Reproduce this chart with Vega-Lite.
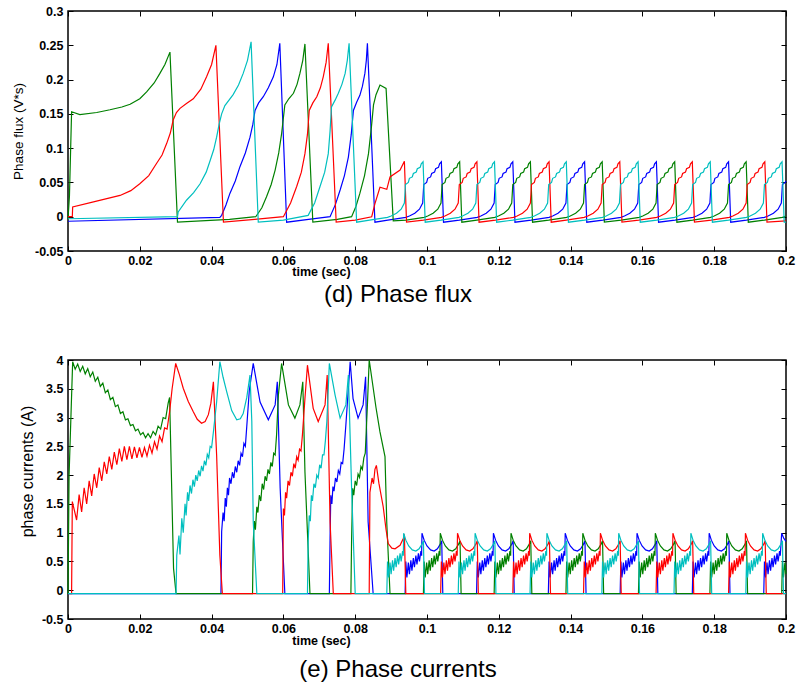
{
"$schema":"https://vega.github.io/schema/vega-lite/v6.json",
"padding":{"left":10,"top":4,"right":2,"bottom":0},
"spacing":45,
"config":{
"view":{"stroke":"#000","strokeWidth":1.5},
"axis":{"grid":false,"domain":false,"ticks":true,"tickSize":-5,"tickColor":"#000","tickWidth":1,"labelFlush":false,"labelFont":"Liberation Sans","labelFontSize":12.5,"labelFontWeight":"bold","labelColor":"#000","titleFont":"Liberation Sans","titleColor":"#000"},
"title":{"font":"Liberation Sans","fontSize":24,"fontWeight":"normal","color":"#000","orient":"bottom","anchor":"middle"}
},
"datasets":{
"flux":[
{"p":"A","t":0,"v":-0.0066},{"p":"A","t":0.0423,"v":-0.001},{"p":"A","t":0.0428,"v":0.002},{"p":"A","t":0.044,"v":0.017},{"p":"A","t":0.0451,"v":0.034},{"p":"A","t":0.0466,"v":0.052},{"p":"A","t":0.0479,"v":0.073},{"p":"A","t":0.0494,"v":0.093},{"p":"A","t":0.0507,"v":0.116},{"p":"A","t":0.0515,"v":0.135},{"p":"A","t":0.0521,"v":0.155},{"p":"A","t":0.0531,"v":0.166},{"p":"A","t":0.0544,"v":0.175},{"p":"A","t":0.0558,"v":0.188},{"p":"A","t":0.0572,"v":0.204},{"p":"A","t":0.0582,"v":0.222},{"p":"A","t":0.059,"v":0.253},{"p":"A","t":0.0609,"v":-0.008},{"p":"A","t":0.067,"v":-0.004},{"p":"A","t":0.073,"v":0},{"p":"A","t":0.0745,"v":0.018},{"p":"A","t":0.0758,"v":0.039},{"p":"A","t":0.077,"v":0.06},{"p":"A","t":0.0781,"v":0.087},{"p":"A","t":0.0789,"v":0.12},{"p":"A","t":0.0795,"v":0.155},{"p":"A","t":0.0804,"v":0.167},{"p":"A","t":0.0813,"v":0.177},{"p":"A","t":0.082,"v":0.19},{"p":"A","t":0.0827,"v":0.209},{"p":"A","t":0.0831,"v":0.228},{"p":"A","t":0.0834,"v":0.253},{"p":"A","t":0.0855,"v":-0.008},
{"p":"A","t":0.0891,"v":-0.005},{"p":"A","t":0.0941,"v":-0.001},{"p":"A","t":0.0951,"v":0.001},{"p":"A","t":0.0966,"v":0.005},{"p":"A","t":0.0979,"v":0.011},{"p":"A","t":0.0988,"v":0.02},{"p":"A","t":0.0991,"v":0.047},{"p":"A","t":0.0999,"v":0.05},{"p":"A","t":0.1002,"v":0.056},{"p":"A","t":0.101,"v":0.058},{"p":"A","t":0.1013,"v":0.063},{"p":"A","t":0.1021,"v":0.065},{"p":"A","t":0.1024,"v":0.07},{"p":"A","t":0.1032,"v":0.072},{"p":"A","t":0.1035,"v":0.077},{"p":"A","t":0.104,"v":0.08},{"p":"A","t":0.1046,"v":-0.008},
{"p":"A","t":0.109,"v":-0.005},{"p":"A","t":0.114,"v":-0.001},{"p":"A","t":0.115,"v":0.001},{"p":"A","t":0.1165,"v":0.005},{"p":"A","t":0.1178,"v":0.011},{"p":"A","t":0.1187,"v":0.02},{"p":"A","t":0.119,"v":0.047},{"p":"A","t":0.1198,"v":0.05},{"p":"A","t":0.1201,"v":0.056},{"p":"A","t":0.1209,"v":0.058},{"p":"A","t":0.1212,"v":0.063},{"p":"A","t":0.122,"v":0.065},{"p":"A","t":0.1223,"v":0.07},{"p":"A","t":0.1231,"v":0.072},{"p":"A","t":0.1234,"v":0.077},{"p":"A","t":0.1239,"v":0.08},{"p":"A","t":0.1245,"v":-0.008},
{"p":"A","t":0.129,"v":-0.005},{"p":"A","t":0.134,"v":-0.001},{"p":"A","t":0.135,"v":0.001},{"p":"A","t":0.1365,"v":0.005},{"p":"A","t":0.1378,"v":0.011},{"p":"A","t":0.1387,"v":0.02},{"p":"A","t":0.139,"v":0.047},{"p":"A","t":0.1398,"v":0.05},{"p":"A","t":0.1401,"v":0.056},{"p":"A","t":0.1409,"v":0.058},{"p":"A","t":0.1412,"v":0.063},{"p":"A","t":0.142,"v":0.065},{"p":"A","t":0.1423,"v":0.07},{"p":"A","t":0.1431,"v":0.072},{"p":"A","t":0.1434,"v":0.077},{"p":"A","t":0.1439,"v":0.08},{"p":"A","t":0.1445,"v":-0.008},
{"p":"A","t":0.149,"v":-0.005},{"p":"A","t":0.154,"v":-0.001},{"p":"A","t":0.155,"v":0.001},{"p":"A","t":0.1565,"v":0.005},{"p":"A","t":0.1578,"v":0.011},{"p":"A","t":0.1587,"v":0.02},{"p":"A","t":0.159,"v":0.047},{"p":"A","t":0.1598,"v":0.05},{"p":"A","t":0.1601,"v":0.056},{"p":"A","t":0.1609,"v":0.058},{"p":"A","t":0.1612,"v":0.063},{"p":"A","t":0.162,"v":0.065},{"p":"A","t":0.1623,"v":0.07},{"p":"A","t":0.1631,"v":0.072},{"p":"A","t":0.1634,"v":0.077},{"p":"A","t":0.1639,"v":0.08},{"p":"A","t":0.1645,"v":-0.008},
{"p":"A","t":0.1691,"v":-0.005},{"p":"A","t":0.1741,"v":-0.001},{"p":"A","t":0.1751,"v":0.001},{"p":"A","t":0.1766,"v":0.005},{"p":"A","t":0.1779,"v":0.011},{"p":"A","t":0.1788,"v":0.02},{"p":"A","t":0.1791,"v":0.047},{"p":"A","t":0.1799,"v":0.05},{"p":"A","t":0.1802,"v":0.056},{"p":"A","t":0.181,"v":0.058},{"p":"A","t":0.1813,"v":0.063},{"p":"A","t":0.1821,"v":0.065},{"p":"A","t":0.1824,"v":0.07},{"p":"A","t":0.1832,"v":0.072},{"p":"A","t":0.1835,"v":0.077},{"p":"A","t":0.184,"v":0.08},{"p":"A","t":0.1846,"v":-0.008},
{"p":"A","t":0.189,"v":-0.005},{"p":"A","t":0.194,"v":-0.001},{"p":"A","t":0.195,"v":0.001},{"p":"A","t":0.1965,"v":0.005},{"p":"A","t":0.1978,"v":0.011},{"p":"A","t":0.1987,"v":0.02},{"p":"A","t":0.199,"v":0.047},{"p":"A","t":0.1998,"v":0.05},{"p":"A","t":0.2,"v":0.052},
{"p":"B","t":0,"v":-0.003},{"p":"B","t":0.0004,"v":0.03},{"p":"B","t":0.001,"v":0.153},{"p":"B","t":0.0033,"v":0.149},{"p":"B","t":0.008,"v":0.152},{"p":"B","t":0.0117,"v":0.156},{"p":"B","t":0.015,"v":0.16},{"p":"B","t":0.0173,"v":0.164},{"p":"B","t":0.02,"v":0.172},{"p":"B","t":0.0219,"v":0.182},{"p":"B","t":0.024,"v":0.195},{"p":"B","t":0.0256,"v":0.209},{"p":"B","t":0.027,"v":0.222},{"p":"B","t":0.0284,"v":0.24},{"p":"B","t":0.0305,"v":-0.008},{"p":"B","t":0.045,"v":-0.004},{"p":"B","t":0.0523,"v":0},{"p":"B","t":0.054,"v":0.013},{"p":"B","t":0.0553,"v":0.029},{"p":"B","t":0.0566,"v":0.047},{"p":"B","t":0.0577,"v":0.068},{"p":"B","t":0.0587,"v":0.093},{"p":"B","t":0.0595,"v":0.121},{"p":"B","t":0.0604,"v":0.163},{"p":"B","t":0.0615,"v":0.172},{"p":"B","t":0.0628,"v":0.18},{"p":"B","t":0.0638,"v":0.193},{"p":"B","t":0.0646,"v":0.209},{"p":"B","t":0.0654,"v":0.228},{"p":"B","t":0.066,"v":0.252},{"p":"B","t":0.0682,"v":-0.008},{"p":"B","t":0.075,"v":-0.004},{"p":"B","t":0.079,"v":0},{"p":"B","t":0.0802,"v":0.015},{"p":"B","t":0.0813,"v":0.034},{"p":"B","t":0.0826,"v":0.06},{"p":"B","t":0.0837,"v":0.092},{"p":"B","t":0.0845,"v":0.13},{"p":"B","t":0.0851,"v":0.163},{"p":"B","t":0.0858,"v":0.178},{"p":"B","t":0.0869,"v":0.192},{"p":"B","t":0.0886,"v":0.187},{"p":"B","t":0.0906,"v":-0.006},
{"p":"B","t":0.0942,"v":-0.005},{"p":"B","t":0.0992,"v":-0.001},{"p":"B","t":0.1002,"v":0.001},{"p":"B","t":0.1017,"v":0.005},{"p":"B","t":0.103,"v":0.011},{"p":"B","t":0.1039,"v":0.02},{"p":"B","t":0.1042,"v":0.047},{"p":"B","t":0.105,"v":0.05},{"p":"B","t":0.1053,"v":0.056},{"p":"B","t":0.1061,"v":0.058},{"p":"B","t":0.1064,"v":0.063},{"p":"B","t":0.1072,"v":0.065},{"p":"B","t":0.1075,"v":0.07},{"p":"B","t":0.1083,"v":0.072},{"p":"B","t":0.1086,"v":0.077},{"p":"B","t":0.1091,"v":0.08},{"p":"B","t":0.1097,"v":-0.008},
{"p":"B","t":0.1139,"v":-0.005},{"p":"B","t":0.1189,"v":-0.001},{"p":"B","t":0.1199,"v":0.001},{"p":"B","t":0.1214,"v":0.005},{"p":"B","t":0.1227,"v":0.011},{"p":"B","t":0.1236,"v":0.02},{"p":"B","t":0.1239,"v":0.047},{"p":"B","t":0.1247,"v":0.05},{"p":"B","t":0.125,"v":0.056},{"p":"B","t":0.1258,"v":0.058},{"p":"B","t":0.1261,"v":0.063},{"p":"B","t":0.1269,"v":0.065},{"p":"B","t":0.1272,"v":0.07},{"p":"B","t":0.128,"v":0.072},{"p":"B","t":0.1283,"v":0.077},{"p":"B","t":0.1288,"v":0.08},{"p":"B","t":0.1294,"v":-0.008},
{"p":"B","t":0.1339,"v":-0.005},{"p":"B","t":0.1389,"v":-0.001},{"p":"B","t":0.1399,"v":0.001},{"p":"B","t":0.1414,"v":0.005},{"p":"B","t":0.1427,"v":0.011},{"p":"B","t":0.1436,"v":0.02},{"p":"B","t":0.1439,"v":0.047},{"p":"B","t":0.1447,"v":0.05},{"p":"B","t":0.145,"v":0.056},{"p":"B","t":0.1458,"v":0.058},{"p":"B","t":0.1461,"v":0.063},{"p":"B","t":0.1469,"v":0.065},{"p":"B","t":0.1472,"v":0.07},{"p":"B","t":0.148,"v":0.072},{"p":"B","t":0.1483,"v":0.077},{"p":"B","t":0.1488,"v":0.08},{"p":"B","t":0.1494,"v":-0.008},
{"p":"B","t":0.1541,"v":-0.005},{"p":"B","t":0.1591,"v":-0.001},{"p":"B","t":0.1601,"v":0.001},{"p":"B","t":0.1616,"v":0.005},{"p":"B","t":0.1629,"v":0.011},{"p":"B","t":0.1638,"v":0.02},{"p":"B","t":0.1641,"v":0.047},{"p":"B","t":0.1649,"v":0.05},{"p":"B","t":0.1652,"v":0.056},{"p":"B","t":0.166,"v":0.058},{"p":"B","t":0.1663,"v":0.063},{"p":"B","t":0.1671,"v":0.065},{"p":"B","t":0.1674,"v":0.07},{"p":"B","t":0.1682,"v":0.072},{"p":"B","t":0.1685,"v":0.077},{"p":"B","t":0.169,"v":0.08},{"p":"B","t":0.1696,"v":-0.008},
{"p":"B","t":0.174,"v":-0.005},{"p":"B","t":0.179,"v":-0.001},{"p":"B","t":0.18,"v":0.001},{"p":"B","t":0.1815,"v":0.005},{"p":"B","t":0.1828,"v":0.011},{"p":"B","t":0.1837,"v":0.02},{"p":"B","t":0.184,"v":0.047},{"p":"B","t":0.1848,"v":0.05},{"p":"B","t":0.1851,"v":0.056},{"p":"B","t":0.1859,"v":0.058},{"p":"B","t":0.1862,"v":0.063},{"p":"B","t":0.187,"v":0.065},{"p":"B","t":0.1873,"v":0.07},{"p":"B","t":0.1881,"v":0.072},{"p":"B","t":0.1884,"v":0.077},{"p":"B","t":0.1889,"v":0.08},{"p":"B","t":0.1895,"v":-0.008},
{"p":"B","t":0.194,"v":-0.005},{"p":"B","t":0.199,"v":-0.001},{"p":"B","t":0.2,"v":0.001},
{"p":"C","t":0,"v":0},{"p":"C","t":0.0012,"v":0},{"p":"C","t":0.0013,"v":0.0143},{"p":"C","t":0.0071,"v":0.0216},{"p":"C","t":0.0145,"v":0.031},{"p":"C","t":0.0175,"v":0.038},{"p":"C","t":0.02,"v":0.048},{"p":"C","t":0.0225,"v":0.06},{"p":"C","t":0.0247,"v":0.078},{"p":"C","t":0.0262,"v":0.09},{"p":"C","t":0.0275,"v":0.107},{"p":"C","t":0.0285,"v":0.122},{"p":"C","t":0.0293,"v":0.141},{"p":"C","t":0.0302,"v":0.152},{"p":"C","t":0.0312,"v":0.158},{"p":"C","t":0.033,"v":0.165},{"p":"C","t":0.0349,"v":0.172},{"p":"C","t":0.037,"v":0.186},{"p":"C","t":0.0386,"v":0.204},{"p":"C","t":0.04,"v":0.222},{"p":"C","t":0.0412,"v":0.25},{"p":"C","t":0.0433,"v":-0.008},{"p":"C","t":0.052,"v":-0.004},{"p":"C","t":0.06,"v":0},{"p":"C","t":0.062,"v":0.02},{"p":"C","t":0.0637,"v":0.044},{"p":"C","t":0.065,"v":0.065},{"p":"C","t":0.066,"v":0.092},{"p":"C","t":0.0667,"v":0.12},{"p":"C","t":0.0672,"v":0.155},{"p":"C","t":0.0682,"v":0.166},{"p":"C","t":0.0693,"v":0.175},{"p":"C","t":0.0703,"v":0.188},{"p":"C","t":0.0711,"v":0.204},{"p":"C","t":0.0719,"v":0.225},{"p":"C","t":0.0725,"v":0.253},{"p":"C","t":0.0747,"v":-0.008},{"p":"C","t":0.08,"v":-0.005},{"p":"C","t":0.0846,"v":0},{"p":"C","t":0.0855,"v":0.019},{"p":"C","t":0.0869,"v":0.043},{"p":"C","t":0.0888,"v":0.04},{"p":"C","t":0.0897,"v":0.058},{"p":"C","t":0.0925,"v":0.068},{"p":"C","t":0.0937,"v":0.081},{"p":"C","t":0.0943,"v":-0.008},
{"p":"C","t":0.099,"v":-0.005},{"p":"C","t":0.104,"v":-0.001},{"p":"C","t":0.105,"v":0.001},{"p":"C","t":0.1065,"v":0.005},{"p":"C","t":0.1078,"v":0.011},{"p":"C","t":0.1087,"v":0.02},{"p":"C","t":0.109,"v":0.047},{"p":"C","t":0.1098,"v":0.05},{"p":"C","t":0.1101,"v":0.056},{"p":"C","t":0.1109,"v":0.058},{"p":"C","t":0.1112,"v":0.063},{"p":"C","t":0.112,"v":0.065},{"p":"C","t":0.1123,"v":0.07},{"p":"C","t":0.1131,"v":0.072},{"p":"C","t":0.1134,"v":0.077},{"p":"C","t":0.1139,"v":0.08},{"p":"C","t":0.1145,"v":-0.008},
{"p":"C","t":0.1191,"v":-0.005},{"p":"C","t":0.1241,"v":-0.001},{"p":"C","t":0.1251,"v":0.001},{"p":"C","t":0.1266,"v":0.005},{"p":"C","t":0.1279,"v":0.011},{"p":"C","t":0.1288,"v":0.02},{"p":"C","t":0.1291,"v":0.047},{"p":"C","t":0.1299,"v":0.05},{"p":"C","t":0.1302,"v":0.056},{"p":"C","t":0.131,"v":0.058},{"p":"C","t":0.1313,"v":0.063},{"p":"C","t":0.1321,"v":0.065},{"p":"C","t":0.1324,"v":0.07},{"p":"C","t":0.1332,"v":0.072},{"p":"C","t":0.1335,"v":0.077},{"p":"C","t":0.134,"v":0.08},{"p":"C","t":0.1346,"v":-0.008},
{"p":"C","t":0.1388,"v":-0.005},{"p":"C","t":0.1438,"v":-0.001},{"p":"C","t":0.1448,"v":0.001},{"p":"C","t":0.1463,"v":0.005},{"p":"C","t":0.1476,"v":0.011},{"p":"C","t":0.1485,"v":0.02},{"p":"C","t":0.1488,"v":0.047},{"p":"C","t":0.1496,"v":0.05},{"p":"C","t":0.1499,"v":0.056},{"p":"C","t":0.1507,"v":0.058},{"p":"C","t":0.151,"v":0.063},{"p":"C","t":0.1518,"v":0.065},{"p":"C","t":0.1521,"v":0.07},{"p":"C","t":0.1529,"v":0.072},{"p":"C","t":0.1532,"v":0.077},{"p":"C","t":0.1537,"v":0.08},{"p":"C","t":0.1543,"v":-0.008},
{"p":"C","t":0.159,"v":-0.005},{"p":"C","t":0.164,"v":-0.001},{"p":"C","t":0.165,"v":0.001},{"p":"C","t":0.1665,"v":0.005},{"p":"C","t":0.1678,"v":0.011},{"p":"C","t":0.1687,"v":0.02},{"p":"C","t":0.169,"v":0.047},{"p":"C","t":0.1698,"v":0.05},{"p":"C","t":0.1701,"v":0.056},{"p":"C","t":0.1709,"v":0.058},{"p":"C","t":0.1712,"v":0.063},{"p":"C","t":0.172,"v":0.065},{"p":"C","t":0.1723,"v":0.07},{"p":"C","t":0.1731,"v":0.072},{"p":"C","t":0.1734,"v":0.077},{"p":"C","t":0.1739,"v":0.08},{"p":"C","t":0.1745,"v":-0.008},
{"p":"C","t":0.1792,"v":-0.005},{"p":"C","t":0.1842,"v":-0.001},{"p":"C","t":0.1852,"v":0.001},{"p":"C","t":0.1867,"v":0.005},{"p":"C","t":0.188,"v":0.011},{"p":"C","t":0.1889,"v":0.02},{"p":"C","t":0.1892,"v":0.047},{"p":"C","t":0.19,"v":0.05},{"p":"C","t":0.1903,"v":0.056},{"p":"C","t":0.1911,"v":0.058},{"p":"C","t":0.1914,"v":0.063},{"p":"C","t":0.1922,"v":0.065},{"p":"C","t":0.1925,"v":0.07},{"p":"C","t":0.1933,"v":0.072},{"p":"C","t":0.1936,"v":0.077},{"p":"C","t":0.1941,"v":0.08},{"p":"C","t":0.1947,"v":-0.008},{"p":"C","t":0.2,"v":-0.006},
{"p":"D","t":0,"v":-0.003},{"p":"D","t":0.0305,"v":0},{"p":"D","t":0.0307,"v":0.007},{"p":"D","t":0.033,"v":0.024},{"p":"D","t":0.035,"v":0.035},{"p":"D","t":0.0368,"v":0.048},{"p":"D","t":0.0385,"v":0.065},{"p":"D","t":0.0396,"v":0.082},{"p":"D","t":0.0406,"v":0.098},{"p":"D","t":0.0414,"v":0.116},{"p":"D","t":0.0421,"v":0.135},{"p":"D","t":0.0428,"v":0.15},{"p":"D","t":0.0437,"v":0.162},{"p":"D","t":0.046,"v":0.178},{"p":"D","t":0.0475,"v":0.192},{"p":"D","t":0.0488,"v":0.209},{"p":"D","t":0.05,"v":0.228},{"p":"D","t":0.051,"v":0.255},{"p":"D","t":0.053,"v":-0.008},{"p":"D","t":0.06,"v":-0.005},{"p":"D","t":0.0669,"v":0.002},{"p":"D","t":0.0687,"v":0.02},{"p":"D","t":0.0702,"v":0.044},{"p":"D","t":0.0715,"v":0.065},{"p":"D","t":0.0725,"v":0.092},{"p":"D","t":0.073,"v":0.125},{"p":"D","t":0.0734,"v":0.16},{"p":"D","t":0.0744,"v":0.17},{"p":"D","t":0.0753,"v":0.18},{"p":"D","t":0.0763,"v":0.193},{"p":"D","t":0.0772,"v":0.209},{"p":"D","t":0.0778,"v":0.228},{"p":"D","t":0.0783,"v":0.253},{"p":"D","t":0.0804,"v":-0.008},
{"p":"D","t":0.084,"v":-0.005},{"p":"D","t":0.089,"v":-0.001},{"p":"D","t":0.09,"v":0.001},{"p":"D","t":0.0915,"v":0.005},{"p":"D","t":0.0928,"v":0.011},{"p":"D","t":0.0937,"v":0.02},{"p":"D","t":0.094,"v":0.047},{"p":"D","t":0.0948,"v":0.05},{"p":"D","t":0.0951,"v":0.056},{"p":"D","t":0.0959,"v":0.058},{"p":"D","t":0.0962,"v":0.063},{"p":"D","t":0.097,"v":0.065},{"p":"D","t":0.0973,"v":0.07},{"p":"D","t":0.0981,"v":0.072},{"p":"D","t":0.0984,"v":0.077},{"p":"D","t":0.0989,"v":0.08},{"p":"D","t":0.0995,"v":-0.008},
{"p":"D","t":0.1039,"v":-0.005},{"p":"D","t":0.1089,"v":-0.001},{"p":"D","t":0.1099,"v":0.001},{"p":"D","t":0.1114,"v":0.005},{"p":"D","t":0.1127,"v":0.011},{"p":"D","t":0.1136,"v":0.02},{"p":"D","t":0.1139,"v":0.047},{"p":"D","t":0.1147,"v":0.05},{"p":"D","t":0.115,"v":0.056},{"p":"D","t":0.1158,"v":0.058},{"p":"D","t":0.1161,"v":0.063},{"p":"D","t":0.1169,"v":0.065},{"p":"D","t":0.1172,"v":0.07},{"p":"D","t":0.118,"v":0.072},{"p":"D","t":0.1183,"v":0.077},{"p":"D","t":0.1188,"v":0.08},{"p":"D","t":0.1194,"v":-0.008},
{"p":"D","t":0.1239,"v":-0.005},{"p":"D","t":0.1289,"v":-0.001},{"p":"D","t":0.1299,"v":0.001},{"p":"D","t":0.1314,"v":0.005},{"p":"D","t":0.1327,"v":0.011},{"p":"D","t":0.1336,"v":0.02},{"p":"D","t":0.1339,"v":0.047},{"p":"D","t":0.1347,"v":0.05},{"p":"D","t":0.135,"v":0.056},{"p":"D","t":0.1358,"v":0.058},{"p":"D","t":0.1361,"v":0.063},{"p":"D","t":0.1369,"v":0.065},{"p":"D","t":0.1372,"v":0.07},{"p":"D","t":0.138,"v":0.072},{"p":"D","t":0.1383,"v":0.077},{"p":"D","t":0.1388,"v":0.08},{"p":"D","t":0.1394,"v":-0.008},
{"p":"D","t":0.1439,"v":-0.005},{"p":"D","t":0.1489,"v":-0.001},{"p":"D","t":0.1499,"v":0.001},{"p":"D","t":0.1514,"v":0.005},{"p":"D","t":0.1527,"v":0.011},{"p":"D","t":0.1536,"v":0.02},{"p":"D","t":0.1539,"v":0.047},{"p":"D","t":0.1547,"v":0.05},{"p":"D","t":0.155,"v":0.056},{"p":"D","t":0.1558,"v":0.058},{"p":"D","t":0.1561,"v":0.063},{"p":"D","t":0.1569,"v":0.065},{"p":"D","t":0.1572,"v":0.07},{"p":"D","t":0.158,"v":0.072},{"p":"D","t":0.1583,"v":0.077},{"p":"D","t":0.1588,"v":0.08},{"p":"D","t":0.1594,"v":-0.008},
{"p":"D","t":0.164,"v":-0.005},{"p":"D","t":0.169,"v":-0.001},{"p":"D","t":0.17,"v":0.001},{"p":"D","t":0.1715,"v":0.005},{"p":"D","t":0.1728,"v":0.011},{"p":"D","t":0.1737,"v":0.02},{"p":"D","t":0.174,"v":0.047},{"p":"D","t":0.1748,"v":0.05},{"p":"D","t":0.1751,"v":0.056},{"p":"D","t":0.1759,"v":0.058},{"p":"D","t":0.1762,"v":0.063},{"p":"D","t":0.177,"v":0.065},{"p":"D","t":0.1773,"v":0.07},{"p":"D","t":0.1781,"v":0.072},{"p":"D","t":0.1784,"v":0.077},{"p":"D","t":0.1789,"v":0.08},{"p":"D","t":0.1795,"v":-0.008},
{"p":"D","t":0.184,"v":-0.005},{"p":"D","t":0.189,"v":-0.001},{"p":"D","t":0.19,"v":0.001},{"p":"D","t":0.1915,"v":0.005},{"p":"D","t":0.1928,"v":0.011},{"p":"D","t":0.1937,"v":0.02},{"p":"D","t":0.194,"v":0.047},{"p":"D","t":0.1948,"v":0.05},{"p":"D","t":0.1951,"v":0.056},{"p":"D","t":0.1959,"v":0.058},{"p":"D","t":0.1962,"v":0.063},{"p":"D","t":0.197,"v":0.065},{"p":"D","t":0.1973,"v":0.07},{"p":"D","t":0.1981,"v":0.072},{"p":"D","t":0.1984,"v":0.077},{"p":"D","t":0.1989,"v":0.08},{"p":"D","t":0.1995,"v":-0.008},{"p":"D","t":0.2,"v":-0.008}
],
"cur":[
{"p":"A","t":0,"v":-0.06},{"p":"A","t":0.0426,"v":-0.06},{"p":"A","t":0.0428,"v":1.02},{"p":"A","t":0.0432,"v":1.35},{"p":"A","t":0.0435,"v":1.2},{"p":"A","t":0.0438,"v":1.6},{"p":"A","t":0.0441,"v":1.45},{"p":"A","t":0.0444,"v":1.78},{"p":"A","t":0.0447,"v":1.65},{"p":"A","t":0.045,"v":1.95},{"p":"A","t":0.0454,"v":1.85},{"p":"A","t":0.0458,"v":2.05},{"p":"A","t":0.0462,"v":1.95},{"p":"A","t":0.0466,"v":2.15},{"p":"A","t":0.047,"v":2.05},{"p":"A","t":0.0474,"v":2.25},{"p":"A","t":0.0478,"v":2.17},{"p":"A","t":0.0482,"v":2.38},{"p":"A","t":0.0486,"v":2.32},{"p":"A","t":0.049,"v":2.55},{"p":"A","t":0.0494,"v":2.5},{"p":"A","t":0.0498,"v":2.85},{"p":"A","t":0.0505,"v":3.47},{"p":"A","t":0.0516,"v":3.94},{"p":"A","t":0.0535,"v":3.27},{"p":"A","t":0.0558,"v":2.96},{"p":"A","t":0.0577,"v":3.22},{"p":"A","t":0.0583,"v":3.62},{"p":"A","t":0.0591,"v":1.77},{"p":"A","t":0.0604,"v":-0.06},
{"p":"A","t":0.0728,"v":-0.06},{"p":"A","t":0.073,"v":0.9},{"p":"A","t":0.0732,"v":1.65},{"p":"A","t":0.0735,"v":1.5},{"p":"A","t":0.0738,"v":1.8},{"p":"A","t":0.0741,"v":1.72},{"p":"A","t":0.0745,"v":1.95},{"p":"A","t":0.0749,"v":1.88},{"p":"A","t":0.0753,"v":2.08},{"p":"A","t":0.0757,"v":2.02},{"p":"A","t":0.0761,"v":2.22},{"p":"A","t":0.0765,"v":2.2},{"p":"A","t":0.0769,"v":2.45},{"p":"A","t":0.0774,"v":2.87},{"p":"A","t":0.0786,"v":3.97},{"p":"A","t":0.0794,"v":3.33},{"p":"A","t":0.0808,"v":2.99},{"p":"A","t":0.0822,"v":3.22},{"p":"A","t":0.0829,"v":3.71},{"p":"A","t":0.0836,"v":1.19},{"p":"A","t":0.085,"v":-0.06},
{"p":"A","t":0.0939,"v":-0.06},{"p":"A","t":0.0941,"v":0.5},{"p":"A","t":0.0944,"v":0.22},{"p":"A","t":0.0948,"v":0.48},{"p":"A","t":0.0951,"v":0.28},{"p":"A","t":0.0955,"v":0.52},{"p":"A","t":0.0958,"v":0.34},{"p":"A","t":0.0962,"v":0.56},{"p":"A","t":0.0965,"v":0.4},{"p":"A","t":0.0969,"v":0.6},{"p":"A","t":0.0972,"v":0.45},{"p":"A","t":0.0976,"v":0.64},{"p":"A","t":0.0979,"v":0.5},{"p":"A","t":0.0983,"v":0.68},{"p":"A","t":0.0985,"v":0.6},{"p":"A","t":0.0986,"v":0.99},{"p":"A","t":0.0992,"v":0.87},{"p":"A","t":0.1,"v":0.77},{"p":"A","t":0.101,"v":0.7},{"p":"A","t":0.102,"v":0.68},{"p":"A","t":0.1029,"v":0.72},{"p":"A","t":0.1037,"v":0.8},{"p":"A","t":0.1041,"v":0.86},{"p":"A","t":0.1044,"v":-0.06},
{"p":"A","t":0.1138,"v":-0.06},{"p":"A","t":0.114,"v":0.5},{"p":"A","t":0.1143,"v":0.22},{"p":"A","t":0.1147,"v":0.48},{"p":"A","t":0.115,"v":0.28},{"p":"A","t":0.1154,"v":0.52},{"p":"A","t":0.1157,"v":0.34},{"p":"A","t":0.1161,"v":0.56},{"p":"A","t":0.1164,"v":0.4},{"p":"A","t":0.1168,"v":0.6},{"p":"A","t":0.1171,"v":0.45},{"p":"A","t":0.1175,"v":0.64},{"p":"A","t":0.1178,"v":0.5},{"p":"A","t":0.1182,"v":0.68},{"p":"A","t":0.1184,"v":0.6},{"p":"A","t":0.1185,"v":0.99},{"p":"A","t":0.1191,"v":0.87},{"p":"A","t":0.1199,"v":0.77},{"p":"A","t":0.1209,"v":0.7},{"p":"A","t":0.1219,"v":0.68},{"p":"A","t":0.1228,"v":0.72},{"p":"A","t":0.1236,"v":0.8},{"p":"A","t":0.124,"v":0.86},{"p":"A","t":0.1243,"v":-0.06},
{"p":"A","t":0.1338,"v":-0.06},{"p":"A","t":0.134,"v":0.5},{"p":"A","t":0.1343,"v":0.22},{"p":"A","t":0.1347,"v":0.48},{"p":"A","t":0.135,"v":0.28},{"p":"A","t":0.1354,"v":0.52},{"p":"A","t":0.1357,"v":0.34},{"p":"A","t":0.1361,"v":0.56},{"p":"A","t":0.1364,"v":0.4},{"p":"A","t":0.1368,"v":0.6},{"p":"A","t":0.1371,"v":0.45},{"p":"A","t":0.1375,"v":0.64},{"p":"A","t":0.1378,"v":0.5},{"p":"A","t":0.1382,"v":0.68},{"p":"A","t":0.1384,"v":0.6},{"p":"A","t":0.1385,"v":0.99},{"p":"A","t":0.1391,"v":0.87},{"p":"A","t":0.1399,"v":0.77},{"p":"A","t":0.1409,"v":0.7},{"p":"A","t":0.1419,"v":0.68},{"p":"A","t":0.1428,"v":0.72},{"p":"A","t":0.1436,"v":0.8},{"p":"A","t":0.144,"v":0.86},{"p":"A","t":0.1443,"v":-0.06},
{"p":"A","t":0.1538,"v":-0.06},{"p":"A","t":0.154,"v":0.5},{"p":"A","t":0.1543,"v":0.22},{"p":"A","t":0.1547,"v":0.48},{"p":"A","t":0.155,"v":0.28},{"p":"A","t":0.1554,"v":0.52},{"p":"A","t":0.1557,"v":0.34},{"p":"A","t":0.1561,"v":0.56},{"p":"A","t":0.1564,"v":0.4},{"p":"A","t":0.1568,"v":0.6},{"p":"A","t":0.1571,"v":0.45},{"p":"A","t":0.1575,"v":0.64},{"p":"A","t":0.1578,"v":0.5},{"p":"A","t":0.1582,"v":0.68},{"p":"A","t":0.1584,"v":0.6},{"p":"A","t":0.1585,"v":0.99},{"p":"A","t":0.1591,"v":0.87},{"p":"A","t":0.1599,"v":0.77},{"p":"A","t":0.1609,"v":0.7},{"p":"A","t":0.1619,"v":0.68},{"p":"A","t":0.1628,"v":0.72},{"p":"A","t":0.1636,"v":0.8},{"p":"A","t":0.164,"v":0.86},{"p":"A","t":0.1643,"v":-0.06},
{"p":"A","t":0.1739,"v":-0.06},{"p":"A","t":0.1741,"v":0.5},{"p":"A","t":0.1744,"v":0.22},{"p":"A","t":0.1748,"v":0.48},{"p":"A","t":0.1751,"v":0.28},{"p":"A","t":0.1755,"v":0.52},{"p":"A","t":0.1758,"v":0.34},{"p":"A","t":0.1762,"v":0.56},{"p":"A","t":0.1765,"v":0.4},{"p":"A","t":0.1769,"v":0.6},{"p":"A","t":0.1772,"v":0.45},{"p":"A","t":0.1776,"v":0.64},{"p":"A","t":0.1779,"v":0.5},{"p":"A","t":0.1783,"v":0.68},{"p":"A","t":0.1785,"v":0.6},{"p":"A","t":0.1786,"v":0.99},{"p":"A","t":0.1792,"v":0.87},{"p":"A","t":0.18,"v":0.77},{"p":"A","t":0.181,"v":0.7},{"p":"A","t":0.182,"v":0.68},{"p":"A","t":0.1829,"v":0.72},{"p":"A","t":0.1837,"v":0.8},{"p":"A","t":0.1841,"v":0.86},{"p":"A","t":0.1844,"v":-0.06},
{"p":"A","t":0.1938,"v":-0.06},{"p":"A","t":0.194,"v":0.5},{"p":"A","t":0.1943,"v":0.22},{"p":"A","t":0.1947,"v":0.48},{"p":"A","t":0.195,"v":0.28},{"p":"A","t":0.1954,"v":0.52},{"p":"A","t":0.1957,"v":0.34},{"p":"A","t":0.1961,"v":0.56},{"p":"A","t":0.1964,"v":0.4},{"p":"A","t":0.1968,"v":0.6},{"p":"A","t":0.1971,"v":0.45},{"p":"A","t":0.1975,"v":0.64},{"p":"A","t":0.1978,"v":0.5},{"p":"A","t":0.1982,"v":0.68},{"p":"A","t":0.1984,"v":0.6},{"p":"A","t":0.1988,"v":0.99},{"p":"A","t":0.1994,"v":0.9},{"p":"A","t":0.2,"v":0.85},
{"p":"B","t":0,"v":-0.06},{"p":"B","t":0.0003,"v":2.0},{"p":"B","t":0.0013,"v":3.97},{"p":"B","t":0.002,"v":3.84},{"p":"B","t":0.0027,"v":3.93},{"p":"B","t":0.0034,"v":3.8},{"p":"B","t":0.0041,"v":3.89},{"p":"B","t":0.0048,"v":3.76},{"p":"B","t":0.0055,"v":3.85},{"p":"B","t":0.0062,"v":3.71},{"p":"B","t":0.0069,"v":3.79},{"p":"B","t":0.0076,"v":3.63},{"p":"B","t":0.0083,"v":3.7},{"p":"B","t":0.009,"v":3.54},{"p":"B","t":0.0097,"v":3.6},{"p":"B","t":0.0104,"v":3.43},{"p":"B","t":0.0111,"v":3.48},{"p":"B","t":0.0118,"v":3.31},{"p":"B","t":0.0125,"v":3.35},{"p":"B","t":0.0132,"v":3.19},{"p":"B","t":0.0139,"v":3.22},{"p":"B","t":0.0146,"v":3.07},{"p":"B","t":0.0153,"v":3.1},{"p":"B","t":0.016,"v":2.96},{"p":"B","t":0.0167,"v":2.98},{"p":"B","t":0.0174,"v":2.86},{"p":"B","t":0.0181,"v":2.88},{"p":"B","t":0.0188,"v":2.77},{"p":"B","t":0.0195,"v":2.8},{"p":"B","t":0.0202,"v":2.7},{"p":"B","t":0.0209,"v":2.74},{"p":"B","t":0.0216,"v":2.65},{"p":"B","t":0.0223,"v":2.72},{"p":"B","t":0.023,"v":2.65},{"p":"B","t":0.0237,"v":2.76},{"p":"B","t":0.0244,"v":2.7},{"p":"B","t":0.0251,"v":2.85},{"p":"B","t":0.0258,"v":2.8},{"p":"B","t":0.0265,"v":3.0},{"p":"B","t":0.0272,"v":2.98},{"p":"B","t":0.0279,"v":3.25},{"p":"B","t":0.0283,"v":3.35},{"p":"B","t":0.0294,"v":0.38},{"p":"B","t":0.0301,"v":-0.06},
{"p":"B","t":0.0514,"v":-0.06},{"p":"B","t":0.0516,"v":0.84},{"p":"B","t":0.0519,"v":1.2},{"p":"B","t":0.0522,"v":1.05},{"p":"B","t":0.0526,"v":1.45},{"p":"B","t":0.0529,"v":1.35},{"p":"B","t":0.0533,"v":1.65},{"p":"B","t":0.0537,"v":1.55},{"p":"B","t":0.0541,"v":1.85},{"p":"B","t":0.0545,"v":1.75},{"p":"B","t":0.0549,"v":1.98},{"p":"B","t":0.0553,"v":1.9},{"p":"B","t":0.0557,"v":2.1},{"p":"B","t":0.0561,"v":2.02},{"p":"B","t":0.0565,"v":2.22},{"p":"B","t":0.0569,"v":2.15},{"p":"B","t":0.0573,"v":2.38},{"p":"B","t":0.0577,"v":2.35},{"p":"B","t":0.0581,"v":2.7},{"p":"B","t":0.0586,"v":3.39},{"p":"B","t":0.0595,"v":3.94},{"p":"B","t":0.0614,"v":3.22},{"p":"B","t":0.0632,"v":2.99},{"p":"B","t":0.0646,"v":3.22},{"p":"B","t":0.0654,"v":3.62},{"p":"B","t":0.066,"v":2.06},{"p":"B","t":0.0674,"v":-0.06},
{"p":"B","t":0.0788,"v":-0.06},{"p":"B","t":0.079,"v":0.9},{"p":"B","t":0.0793,"v":1.77},{"p":"B","t":0.0796,"v":1.65},{"p":"B","t":0.08,"v":1.9},{"p":"B","t":0.0804,"v":1.82},{"p":"B","t":0.0808,"v":2.02},{"p":"B","t":0.0812,"v":1.96},{"p":"B","t":0.0816,"v":2.15},{"p":"B","t":0.082,"v":2.1},{"p":"B","t":0.0824,"v":2.3},{"p":"B","t":0.0828,"v":2.38},{"p":"B","t":0.0834,"v":3.22},{"p":"B","t":0.0839,"v":4.0},{"p":"B","t":0.0858,"v":3.17},{"p":"B","t":0.0869,"v":2.75},{"p":"B","t":0.0883,"v":2.32},{"p":"B","t":0.0888,"v":1.16},{"p":"B","t":0.0897,"v":-0.06},
{"p":"B","t":0.099,"v":-0.06},{"p":"B","t":0.0992,"v":0.5},{"p":"B","t":0.0995,"v":0.22},{"p":"B","t":0.0999,"v":0.48},{"p":"B","t":0.1002,"v":0.28},{"p":"B","t":0.1006,"v":0.52},{"p":"B","t":0.1009,"v":0.34},{"p":"B","t":0.1013,"v":0.56},{"p":"B","t":0.1016,"v":0.4},{"p":"B","t":0.102,"v":0.6},{"p":"B","t":0.1023,"v":0.45},{"p":"B","t":0.1027,"v":0.64},{"p":"B","t":0.103,"v":0.5},{"p":"B","t":0.1034,"v":0.68},{"p":"B","t":0.1036,"v":0.6},{"p":"B","t":0.1037,"v":0.99},{"p":"B","t":0.1043,"v":0.87},{"p":"B","t":0.1051,"v":0.77},{"p":"B","t":0.1061,"v":0.7},{"p":"B","t":0.1071,"v":0.68},{"p":"B","t":0.108,"v":0.72},{"p":"B","t":0.1088,"v":0.8},{"p":"B","t":0.1092,"v":0.86},{"p":"B","t":0.1095,"v":-0.06},
{"p":"B","t":0.1187,"v":-0.06},{"p":"B","t":0.1189,"v":0.5},{"p":"B","t":0.1192,"v":0.22},{"p":"B","t":0.1196,"v":0.48},{"p":"B","t":0.1199,"v":0.28},{"p":"B","t":0.1203,"v":0.52},{"p":"B","t":0.1206,"v":0.34},{"p":"B","t":0.121,"v":0.56},{"p":"B","t":0.1213,"v":0.4},{"p":"B","t":0.1217,"v":0.6},{"p":"B","t":0.122,"v":0.45},{"p":"B","t":0.1224,"v":0.64},{"p":"B","t":0.1227,"v":0.5},{"p":"B","t":0.1231,"v":0.68},{"p":"B","t":0.1233,"v":0.6},{"p":"B","t":0.1234,"v":0.99},{"p":"B","t":0.124,"v":0.87},{"p":"B","t":0.1248,"v":0.77},{"p":"B","t":0.1258,"v":0.7},{"p":"B","t":0.1268,"v":0.68},{"p":"B","t":0.1277,"v":0.72},{"p":"B","t":0.1285,"v":0.8},{"p":"B","t":0.1289,"v":0.86},{"p":"B","t":0.1292,"v":-0.06},
{"p":"B","t":0.1387,"v":-0.06},{"p":"B","t":0.1389,"v":0.5},{"p":"B","t":0.1392,"v":0.22},{"p":"B","t":0.1396,"v":0.48},{"p":"B","t":0.1399,"v":0.28},{"p":"B","t":0.1403,"v":0.52},{"p":"B","t":0.1406,"v":0.34},{"p":"B","t":0.141,"v":0.56},{"p":"B","t":0.1413,"v":0.4},{"p":"B","t":0.1417,"v":0.6},{"p":"B","t":0.142,"v":0.45},{"p":"B","t":0.1424,"v":0.64},{"p":"B","t":0.1427,"v":0.5},{"p":"B","t":0.1431,"v":0.68},{"p":"B","t":0.1433,"v":0.6},{"p":"B","t":0.1434,"v":0.99},{"p":"B","t":0.144,"v":0.87},{"p":"B","t":0.1448,"v":0.77},{"p":"B","t":0.1458,"v":0.7},{"p":"B","t":0.1468,"v":0.68},{"p":"B","t":0.1477,"v":0.72},{"p":"B","t":0.1485,"v":0.8},{"p":"B","t":0.1489,"v":0.86},{"p":"B","t":0.1492,"v":-0.06},
{"p":"B","t":0.1589,"v":-0.06},{"p":"B","t":0.1591,"v":0.5},{"p":"B","t":0.1594,"v":0.22},{"p":"B","t":0.1598,"v":0.48},{"p":"B","t":0.1601,"v":0.28},{"p":"B","t":0.1605,"v":0.52},{"p":"B","t":0.1608,"v":0.34},{"p":"B","t":0.1612,"v":0.56},{"p":"B","t":0.1615,"v":0.4},{"p":"B","t":0.1619,"v":0.6},{"p":"B","t":0.1622,"v":0.45},{"p":"B","t":0.1626,"v":0.64},{"p":"B","t":0.1629,"v":0.5},{"p":"B","t":0.1633,"v":0.68},{"p":"B","t":0.1635,"v":0.6},{"p":"B","t":0.1636,"v":0.99},{"p":"B","t":0.1642,"v":0.87},{"p":"B","t":0.165,"v":0.77},{"p":"B","t":0.166,"v":0.7},{"p":"B","t":0.167,"v":0.68},{"p":"B","t":0.1679,"v":0.72},{"p":"B","t":0.1687,"v":0.8},{"p":"B","t":0.1691,"v":0.86},{"p":"B","t":0.1694,"v":-0.06},
{"p":"B","t":0.1788,"v":-0.06},{"p":"B","t":0.179,"v":0.5},{"p":"B","t":0.1793,"v":0.22},{"p":"B","t":0.1797,"v":0.48},{"p":"B","t":0.18,"v":0.28},{"p":"B","t":0.1804,"v":0.52},{"p":"B","t":0.1807,"v":0.34},{"p":"B","t":0.1811,"v":0.56},{"p":"B","t":0.1814,"v":0.4},{"p":"B","t":0.1818,"v":0.6},{"p":"B","t":0.1821,"v":0.45},{"p":"B","t":0.1825,"v":0.64},{"p":"B","t":0.1828,"v":0.5},{"p":"B","t":0.1832,"v":0.68},{"p":"B","t":0.1834,"v":0.6},{"p":"B","t":0.1835,"v":0.99},{"p":"B","t":0.1841,"v":0.87},{"p":"B","t":0.1849,"v":0.77},{"p":"B","t":0.1859,"v":0.7},{"p":"B","t":0.1869,"v":0.68},{"p":"B","t":0.1878,"v":0.72},{"p":"B","t":0.1886,"v":0.8},{"p":"B","t":0.189,"v":0.86},{"p":"B","t":0.1893,"v":-0.06},
{"p":"B","t":0.1988,"v":-0.06},{"p":"B","t":0.199,"v":0.5},{"p":"B","t":0.1993,"v":0.22},{"p":"B","t":0.1997,"v":0.48},{"p":"B","t":0.2,"v":0.28},
{"p":"C","t":0,"v":-0.06},{"p":"C","t":0.001,"v":-0.06},{"p":"C","t":0.0012,"v":1.54},{"p":"C","t":0.0024,"v":1.22},{"p":"C","t":0.0031,"v":1.66},{"p":"C","t":0.0038,"v":1.36},{"p":"C","t":0.0045,"v":1.78},{"p":"C","t":0.0052,"v":1.5},{"p":"C","t":0.0059,"v":1.9},{"p":"C","t":0.0066,"v":1.64},{"p":"C","t":0.0073,"v":2.02},{"p":"C","t":0.008,"v":1.78},{"p":"C","t":0.0087,"v":2.13},{"p":"C","t":0.0094,"v":1.9},{"p":"C","t":0.0101,"v":2.23},{"p":"C","t":0.0108,"v":2.02},{"p":"C","t":0.0115,"v":2.32},{"p":"C","t":0.0122,"v":2.1},{"p":"C","t":0.0129,"v":2.4},{"p":"C","t":0.0136,"v":2.18},{"p":"C","t":0.0143,"v":2.46},{"p":"C","t":0.015,"v":2.24},{"p":"C","t":0.0157,"v":2.5},{"p":"C","t":0.0164,"v":2.27},{"p":"C","t":0.0171,"v":2.5},{"p":"C","t":0.0178,"v":2.28},{"p":"C","t":0.0185,"v":2.49},{"p":"C","t":0.0192,"v":2.3},{"p":"C","t":0.0199,"v":2.48},{"p":"C","t":0.0206,"v":2.31},{"p":"C","t":0.0213,"v":2.48},{"p":"C","t":0.022,"v":2.33},{"p":"C","t":0.0227,"v":2.52},{"p":"C","t":0.0234,"v":2.38},{"p":"C","t":0.0241,"v":2.58},{"p":"C","t":0.0248,"v":2.45},{"p":"C","t":0.0255,"v":2.68},{"p":"C","t":0.0262,"v":2.58},{"p":"C","t":0.0269,"v":2.82},{"p":"C","t":0.0276,"v":2.8},{"p":"C","t":0.0283,"v":3.1},{"p":"C","t":0.029,"v":3.5},{"p":"C","t":0.03,"v":3.94},{"p":"C","t":0.031,"v":3.75},{"p":"C","t":0.0321,"v":3.51},{"p":"C","t":0.0335,"v":3.28},{"p":"C","t":0.0349,"v":3.1},{"p":"C","t":0.036,"v":2.97},{"p":"C","t":0.0372,"v":2.9},{"p":"C","t":0.0382,"v":2.93},{"p":"C","t":0.0391,"v":3.05},{"p":"C","t":0.0398,"v":3.25},{"p":"C","t":0.0405,"v":3.62},{"p":"C","t":0.0414,"v":2.35},{"p":"C","t":0.0423,"v":0.61},{"p":"C","t":0.043,"v":-0.06},
{"p":"C","t":0.0598,"v":-0.06},{"p":"C","t":0.06,"v":1.42},{"p":"C","t":0.0603,"v":1.3},{"p":"C","t":0.0606,"v":1.7},{"p":"C","t":0.0609,"v":1.6},{"p":"C","t":0.0613,"v":1.9},{"p":"C","t":0.0617,"v":1.82},{"p":"C","t":0.0621,"v":2.05},{"p":"C","t":0.0625,"v":1.98},{"p":"C","t":0.0629,"v":2.2},{"p":"C","t":0.0633,"v":2.12},{"p":"C","t":0.0637,"v":2.32},{"p":"C","t":0.0641,"v":2.26},{"p":"C","t":0.0645,"v":2.45},{"p":"C","t":0.0649,"v":2.42},{"p":"C","t":0.0653,"v":2.7},{"p":"C","t":0.066,"v":3.33},{"p":"C","t":0.0667,"v":3.91},{"p":"C","t":0.0683,"v":3.16},{"p":"C","t":0.0697,"v":2.93},{"p":"C","t":0.0716,"v":3.22},{"p":"C","t":0.0722,"v":3.74},{"p":"C","t":0.073,"v":1.19},{"p":"C","t":0.0739,"v":-0.06},
{"p":"C","t":0.0839,"v":-0.06},{"p":"C","t":0.0841,"v":1.7},{"p":"C","t":0.0847,"v":1.95},{"p":"C","t":0.0851,"v":1.85},{"p":"C","t":0.0855,"v":2.1},{"p":"C","t":0.0859,"v":2.17},{"p":"C","t":0.0866,"v":1.86},{"p":"C","t":0.0878,"v":1.45},{"p":"C","t":0.0886,"v":1.05},{"p":"C","t":0.0892,"v":0.81},{"p":"C","t":0.0902,"v":0.73},{"p":"C","t":0.0911,"v":0.72},{"p":"C","t":0.0925,"v":0.78},{"p":"C","t":0.0934,"v":0.9},{"p":"C","t":0.0937,"v":0.97},{"p":"C","t":0.0941,"v":-0.06},
{"p":"C","t":0.1038,"v":-0.06},{"p":"C","t":0.104,"v":0.5},{"p":"C","t":0.1043,"v":0.22},{"p":"C","t":0.1047,"v":0.48},{"p":"C","t":0.105,"v":0.28},{"p":"C","t":0.1054,"v":0.52},{"p":"C","t":0.1057,"v":0.34},{"p":"C","t":0.1061,"v":0.56},{"p":"C","t":0.1064,"v":0.4},{"p":"C","t":0.1068,"v":0.6},{"p":"C","t":0.1071,"v":0.45},{"p":"C","t":0.1075,"v":0.64},{"p":"C","t":0.1078,"v":0.5},{"p":"C","t":0.1082,"v":0.68},{"p":"C","t":0.1084,"v":0.6},{"p":"C","t":0.1085,"v":0.99},{"p":"C","t":0.1091,"v":0.87},{"p":"C","t":0.1099,"v":0.77},{"p":"C","t":0.1109,"v":0.7},{"p":"C","t":0.1119,"v":0.68},{"p":"C","t":0.1128,"v":0.72},{"p":"C","t":0.1136,"v":0.8},{"p":"C","t":0.114,"v":0.86},{"p":"C","t":0.1143,"v":-0.06},
{"p":"C","t":0.1239,"v":-0.06},{"p":"C","t":0.1241,"v":0.5},{"p":"C","t":0.1244,"v":0.22},{"p":"C","t":0.1248,"v":0.48},{"p":"C","t":0.1251,"v":0.28},{"p":"C","t":0.1255,"v":0.52},{"p":"C","t":0.1258,"v":0.34},{"p":"C","t":0.1262,"v":0.56},{"p":"C","t":0.1265,"v":0.4},{"p":"C","t":0.1269,"v":0.6},{"p":"C","t":0.1272,"v":0.45},{"p":"C","t":0.1276,"v":0.64},{"p":"C","t":0.1279,"v":0.5},{"p":"C","t":0.1283,"v":0.68},{"p":"C","t":0.1285,"v":0.6},{"p":"C","t":0.1286,"v":0.99},{"p":"C","t":0.1292,"v":0.87},{"p":"C","t":0.13,"v":0.77},{"p":"C","t":0.131,"v":0.7},{"p":"C","t":0.132,"v":0.68},{"p":"C","t":0.1329,"v":0.72},{"p":"C","t":0.1337,"v":0.8},{"p":"C","t":0.1341,"v":0.86},{"p":"C","t":0.1344,"v":-0.06},
{"p":"C","t":0.1436,"v":-0.06},{"p":"C","t":0.1438,"v":0.5},{"p":"C","t":0.1441,"v":0.22},{"p":"C","t":0.1445,"v":0.48},{"p":"C","t":0.1448,"v":0.28},{"p":"C","t":0.1452,"v":0.52},{"p":"C","t":0.1455,"v":0.34},{"p":"C","t":0.1459,"v":0.56},{"p":"C","t":0.1462,"v":0.4},{"p":"C","t":0.1466,"v":0.6},{"p":"C","t":0.1469,"v":0.45},{"p":"C","t":0.1473,"v":0.64},{"p":"C","t":0.1476,"v":0.5},{"p":"C","t":0.148,"v":0.68},{"p":"C","t":0.1482,"v":0.6},{"p":"C","t":0.1483,"v":0.99},{"p":"C","t":0.1489,"v":0.87},{"p":"C","t":0.1497,"v":0.77},{"p":"C","t":0.1507,"v":0.7},{"p":"C","t":0.1517,"v":0.68},{"p":"C","t":0.1526,"v":0.72},{"p":"C","t":0.1534,"v":0.8},{"p":"C","t":0.1538,"v":0.86},{"p":"C","t":0.1541,"v":-0.06},
{"p":"C","t":0.1638,"v":-0.06},{"p":"C","t":0.164,"v":0.5},{"p":"C","t":0.1643,"v":0.22},{"p":"C","t":0.1647,"v":0.48},{"p":"C","t":0.165,"v":0.28},{"p":"C","t":0.1654,"v":0.52},{"p":"C","t":0.1657,"v":0.34},{"p":"C","t":0.1661,"v":0.56},{"p":"C","t":0.1664,"v":0.4},{"p":"C","t":0.1668,"v":0.6},{"p":"C","t":0.1671,"v":0.45},{"p":"C","t":0.1675,"v":0.64},{"p":"C","t":0.1678,"v":0.5},{"p":"C","t":0.1682,"v":0.68},{"p":"C","t":0.1684,"v":0.6},{"p":"C","t":0.1685,"v":0.99},{"p":"C","t":0.1691,"v":0.87},{"p":"C","t":0.1699,"v":0.77},{"p":"C","t":0.1709,"v":0.7},{"p":"C","t":0.1719,"v":0.68},{"p":"C","t":0.1728,"v":0.72},{"p":"C","t":0.1736,"v":0.8},{"p":"C","t":0.174,"v":0.86},{"p":"C","t":0.1743,"v":-0.06},
{"p":"C","t":0.184,"v":-0.06},{"p":"C","t":0.1842,"v":0.5},{"p":"C","t":0.1845,"v":0.22},{"p":"C","t":0.1849,"v":0.48},{"p":"C","t":0.1852,"v":0.28},{"p":"C","t":0.1856,"v":0.52},{"p":"C","t":0.1859,"v":0.34},{"p":"C","t":0.1863,"v":0.56},{"p":"C","t":0.1866,"v":0.4},{"p":"C","t":0.187,"v":0.6},{"p":"C","t":0.1873,"v":0.45},{"p":"C","t":0.1877,"v":0.64},{"p":"C","t":0.188,"v":0.5},{"p":"C","t":0.1884,"v":0.68},{"p":"C","t":0.1886,"v":0.6},{"p":"C","t":0.1887,"v":0.99},{"p":"C","t":0.1893,"v":0.87},{"p":"C","t":0.1901,"v":0.77},{"p":"C","t":0.1911,"v":0.7},{"p":"C","t":0.1921,"v":0.68},{"p":"C","t":0.193,"v":0.72},{"p":"C","t":0.1938,"v":0.8},{"p":"C","t":0.1942,"v":0.86},{"p":"C","t":0.1945,"v":-0.06},{"p":"C","t":0.2,"v":-0.06},
{"p":"D","t":0,"v":-0.06},{"p":"D","t":0.0301,"v":-0.06},{"p":"D","t":0.0303,"v":0.61},{"p":"D","t":0.0309,"v":0.95},{"p":"D","t":0.0312,"v":0.62},{"p":"D","t":0.0317,"v":1.25},{"p":"D","t":0.0321,"v":1.0},{"p":"D","t":0.0326,"v":1.5},{"p":"D","t":0.0329,"v":1.3},{"p":"D","t":0.0333,"v":1.7},{"p":"D","t":0.0336,"v":1.55},{"p":"D","t":0.034,"v":1.82},{"p":"D","t":0.0344,"v":1.68},{"p":"D","t":0.0348,"v":1.92},{"p":"D","t":0.0352,"v":1.8},{"p":"D","t":0.0356,"v":2.0},{"p":"D","t":0.036,"v":1.9},{"p":"D","t":0.0364,"v":2.08},{"p":"D","t":0.0368,"v":1.98},{"p":"D","t":0.0372,"v":2.16},{"p":"D","t":0.0376,"v":2.07},{"p":"D","t":0.038,"v":2.25},{"p":"D","t":0.0384,"v":2.17},{"p":"D","t":0.0388,"v":2.36},{"p":"D","t":0.0392,"v":2.3},{"p":"D","t":0.0396,"v":2.5},{"p":"D","t":0.04,"v":2.48},{"p":"D","t":0.0405,"v":2.75},{"p":"D","t":0.0414,"v":3.27},{"p":"D","t":0.0423,"v":3.97},{"p":"D","t":0.0432,"v":3.7},{"p":"D","t":0.0442,"v":3.45},{"p":"D","t":0.0456,"v":3.12},{"p":"D","t":0.047,"v":2.96},{"p":"D","t":0.048,"v":2.98},{"p":"D","t":0.0488,"v":3.07},{"p":"D","t":0.0498,"v":3.35},{"p":"D","t":0.0507,"v":3.74},{"p":"D","t":0.0512,"v":2.93},{"p":"D","t":0.0516,"v":1.19},{"p":"D","t":0.0526,"v":-0.06},
{"p":"D","t":0.0667,"v":-0.06},{"p":"D","t":0.0669,"v":0.84},{"p":"D","t":0.0672,"v":1.3},{"p":"D","t":0.0675,"v":1.2},{"p":"D","t":0.0678,"v":1.65},{"p":"D","t":0.0681,"v":1.55},{"p":"D","t":0.0685,"v":1.85},{"p":"D","t":0.0689,"v":1.78},{"p":"D","t":0.0693,"v":2.0},{"p":"D","t":0.0697,"v":1.95},{"p":"D","t":0.0701,"v":2.18},{"p":"D","t":0.0705,"v":2.12},{"p":"D","t":0.0709,"v":2.35},{"p":"D","t":0.0713,"v":2.35},{"p":"D","t":0.0717,"v":2.6},{"p":"D","t":0.0721,"v":2.93},{"p":"D","t":0.0728,"v":3.94},{"p":"D","t":0.0744,"v":3.39},{"p":"D","t":0.0758,"v":2.99},{"p":"D","t":0.0774,"v":3.22},{"p":"D","t":0.0781,"v":3.74},{"p":"D","t":0.079,"v":1.77},{"p":"D","t":0.08,"v":-0.06},
{"p":"D","t":0.0888,"v":-0.06},{"p":"D","t":0.089,"v":0.5},{"p":"D","t":0.0893,"v":0.22},{"p":"D","t":0.0897,"v":0.48},{"p":"D","t":0.09,"v":0.28},{"p":"D","t":0.0904,"v":0.52},{"p":"D","t":0.0907,"v":0.34},{"p":"D","t":0.0911,"v":0.56},{"p":"D","t":0.0914,"v":0.4},{"p":"D","t":0.0918,"v":0.6},{"p":"D","t":0.0921,"v":0.45},{"p":"D","t":0.0925,"v":0.64},{"p":"D","t":0.0928,"v":0.5},{"p":"D","t":0.0932,"v":0.68},{"p":"D","t":0.0934,"v":0.6},{"p":"D","t":0.0935,"v":0.99},{"p":"D","t":0.0941,"v":0.87},{"p":"D","t":0.0949,"v":0.77},{"p":"D","t":0.0959,"v":0.7},{"p":"D","t":0.0969,"v":0.68},{"p":"D","t":0.0978,"v":0.72},{"p":"D","t":0.0986,"v":0.8},{"p":"D","t":0.099,"v":0.86},{"p":"D","t":0.0993,"v":-0.06},
{"p":"D","t":0.1087,"v":-0.06},{"p":"D","t":0.1089,"v":0.5},{"p":"D","t":0.1092,"v":0.22},{"p":"D","t":0.1096,"v":0.48},{"p":"D","t":0.1099,"v":0.28},{"p":"D","t":0.1103,"v":0.52},{"p":"D","t":0.1106,"v":0.34},{"p":"D","t":0.111,"v":0.56},{"p":"D","t":0.1113,"v":0.4},{"p":"D","t":0.1117,"v":0.6},{"p":"D","t":0.112,"v":0.45},{"p":"D","t":0.1124,"v":0.64},{"p":"D","t":0.1127,"v":0.5},{"p":"D","t":0.1131,"v":0.68},{"p":"D","t":0.1133,"v":0.6},{"p":"D","t":0.1134,"v":0.99},{"p":"D","t":0.114,"v":0.87},{"p":"D","t":0.1148,"v":0.77},{"p":"D","t":0.1158,"v":0.7},{"p":"D","t":0.1168,"v":0.68},{"p":"D","t":0.1177,"v":0.72},{"p":"D","t":0.1185,"v":0.8},{"p":"D","t":0.1189,"v":0.86},{"p":"D","t":0.1192,"v":-0.06},
{"p":"D","t":0.1287,"v":-0.06},{"p":"D","t":0.1289,"v":0.5},{"p":"D","t":0.1292,"v":0.22},{"p":"D","t":0.1296,"v":0.48},{"p":"D","t":0.1299,"v":0.28},{"p":"D","t":0.1303,"v":0.52},{"p":"D","t":0.1306,"v":0.34},{"p":"D","t":0.131,"v":0.56},{"p":"D","t":0.1313,"v":0.4},{"p":"D","t":0.1317,"v":0.6},{"p":"D","t":0.132,"v":0.45},{"p":"D","t":0.1324,"v":0.64},{"p":"D","t":0.1327,"v":0.5},{"p":"D","t":0.1331,"v":0.68},{"p":"D","t":0.1333,"v":0.6},{"p":"D","t":0.1334,"v":0.99},{"p":"D","t":0.134,"v":0.87},{"p":"D","t":0.1348,"v":0.77},{"p":"D","t":0.1358,"v":0.7},{"p":"D","t":0.1368,"v":0.68},{"p":"D","t":0.1377,"v":0.72},{"p":"D","t":0.1385,"v":0.8},{"p":"D","t":0.1389,"v":0.86},{"p":"D","t":0.1392,"v":-0.06},
{"p":"D","t":0.1487,"v":-0.06},{"p":"D","t":0.1489,"v":0.5},{"p":"D","t":0.1492,"v":0.22},{"p":"D","t":0.1496,"v":0.48},{"p":"D","t":0.1499,"v":0.28},{"p":"D","t":0.1503,"v":0.52},{"p":"D","t":0.1506,"v":0.34},{"p":"D","t":0.151,"v":0.56},{"p":"D","t":0.1513,"v":0.4},{"p":"D","t":0.1517,"v":0.6},{"p":"D","t":0.152,"v":0.45},{"p":"D","t":0.1524,"v":0.64},{"p":"D","t":0.1527,"v":0.5},{"p":"D","t":0.1531,"v":0.68},{"p":"D","t":0.1533,"v":0.6},{"p":"D","t":0.1534,"v":0.99},{"p":"D","t":0.154,"v":0.87},{"p":"D","t":0.1548,"v":0.77},{"p":"D","t":0.1558,"v":0.7},{"p":"D","t":0.1568,"v":0.68},{"p":"D","t":0.1577,"v":0.72},{"p":"D","t":0.1585,"v":0.8},{"p":"D","t":0.1589,"v":0.86},{"p":"D","t":0.1592,"v":-0.06},
{"p":"D","t":0.1688,"v":-0.06},{"p":"D","t":0.169,"v":0.5},{"p":"D","t":0.1693,"v":0.22},{"p":"D","t":0.1697,"v":0.48},{"p":"D","t":0.17,"v":0.28},{"p":"D","t":0.1704,"v":0.52},{"p":"D","t":0.1707,"v":0.34},{"p":"D","t":0.1711,"v":0.56},{"p":"D","t":0.1714,"v":0.4},{"p":"D","t":0.1718,"v":0.6},{"p":"D","t":0.1721,"v":0.45},{"p":"D","t":0.1725,"v":0.64},{"p":"D","t":0.1728,"v":0.5},{"p":"D","t":0.1732,"v":0.68},{"p":"D","t":0.1734,"v":0.6},{"p":"D","t":0.1735,"v":0.99},{"p":"D","t":0.1741,"v":0.87},{"p":"D","t":0.1749,"v":0.77},{"p":"D","t":0.1759,"v":0.7},{"p":"D","t":0.1769,"v":0.68},{"p":"D","t":0.1778,"v":0.72},{"p":"D","t":0.1786,"v":0.8},{"p":"D","t":0.179,"v":0.86},{"p":"D","t":0.1793,"v":-0.06},
{"p":"D","t":0.1888,"v":-0.06},{"p":"D","t":0.189,"v":0.5},{"p":"D","t":0.1893,"v":0.22},{"p":"D","t":0.1897,"v":0.48},{"p":"D","t":0.19,"v":0.28},{"p":"D","t":0.1904,"v":0.52},{"p":"D","t":0.1907,"v":0.34},{"p":"D","t":0.1911,"v":0.56},{"p":"D","t":0.1914,"v":0.4},{"p":"D","t":0.1918,"v":0.6},{"p":"D","t":0.1921,"v":0.45},{"p":"D","t":0.1925,"v":0.64},{"p":"D","t":0.1928,"v":0.5},{"p":"D","t":0.1932,"v":0.68},{"p":"D","t":0.1934,"v":0.6},{"p":"D","t":0.1935,"v":0.99},{"p":"D","t":0.1941,"v":0.87},{"p":"D","t":0.1949,"v":0.77},{"p":"D","t":0.1959,"v":0.7},{"p":"D","t":0.1969,"v":0.68},{"p":"D","t":0.1978,"v":0.72},{"p":"D","t":0.1986,"v":0.8},{"p":"D","t":0.199,"v":0.86},{"p":"D","t":0.1993,"v":-0.06},{"p":"D","t":0.2,"v":-0.06}
]
},
"vconcat":[
{
"width":718,"height":240,
"title":{"text":"(d) Phase flux","dx":-29,"offset":5},
"data":{"name":"flux"},
"layer":[
{"mark":{"type":"line","strokeWidth":1.2},
"encoding":{
"x":{"field":"t","type":"quantitative","scale":{"domain":[0,0.2],"nice":false,"zero":false},"axis":{"orient":"bottom","values":[0,0.02,0.04,0.06,0.08,0.1,0.12,0.14,0.16,0.18,0.2],"format":"~g","labelPadding":8,"title":"time (sec)","titleFontSize":12.5,"titleFontWeight":"bold","titleX":253,"titleY":20,"titleAlign":"center","titleBaseline":"middle"}},
"y":{"field":"v","type":"quantitative","scale":{"domain":[-0.05,0.3],"nice":false,"zero":false},"axis":{"orient":"left","values":[-0.05,0,0.05,0.1,0.15,0.2,0.25,0.3],"labelExpr":"datum.value < 0 ? '-' + format(-datum.value, '~g') : format(datum.value, '~g')","labelPadding":10,"title":"Phase flux (V*s)","titleFontSize":13.5,"titleFontWeight":"normal","titleX":-50,"titleBaseline":"middle"}},
"color":{"field":"p","type":"nominal","scale":{"domain":["A","B","C","D"],"range":["#0000FF","#008000","#FF0000","#00BFBF"]},"legend":null}
}},
{"mark":{"type":"point","opacity":0},
"encoding":{
"x":{"field":"t","type":"quantitative","scale":{"domain":[0,0.2],"nice":false,"zero":false},"axis":{"orient":"top","values":[0,0.02,0.04,0.06,0.08,0.1,0.12,0.14,0.16,0.18,0.2],"labels":false,"title":null}},
"y":{"field":"v","type":"quantitative","scale":{"domain":[-0.05,0.3],"nice":false,"zero":false},"axis":{"orient":"right","values":[-0.05,0,0.05,0.1,0.15,0.2,0.25,0.3],"labels":false,"title":null}}
}}
],
"resolve":{"axis":{"x":"independent","y":"independent"}}
},
{
"width":718,"height":259,
"title":{"text":"(e) Phase currents","dx":-29,"offset":11},
"data":{"name":"cur"},
"layer":[
{"mark":{"type":"line","strokeWidth":1.2},
"encoding":{
"x":{"field":"t","type":"quantitative","scale":{"domain":[0,0.2],"nice":false,"zero":false},"axis":{"orient":"bottom","values":[0,0.02,0.04,0.06,0.08,0.1,0.12,0.14,0.16,0.18,0.2],"format":"~g","labelPadding":8,"title":"time (sec)","titleFontSize":12.5,"titleFontWeight":"bold","titleX":253,"titleY":21,"titleAlign":"center","titleBaseline":"middle"}},
"y":{"field":"v","type":"quantitative","scale":{"domain":[-0.5,4],"nice":false,"zero":false},"axis":{"orient":"left","values":[-0.5,0,0.5,1,1.5,2,2.5,3,3.5,4],"labelExpr":"datum.value < 0 ? '-' + format(-datum.value, '~g') : format(datum.value, '~g')","labelPadding":10,"title":"phase currents (A)","titleFontSize":16,"titleFontWeight":"normal","titleX":-40.5,"titleY":111,"titleBaseline":"middle"}},
"color":{"field":"p","type":"nominal","scale":{"domain":["A","B","C","D"],"range":["#0000FF","#008000","#FF0000","#00BFBF"]},"legend":null}
}},
{"mark":{"type":"point","opacity":0},
"encoding":{
"x":{"field":"t","type":"quantitative","scale":{"domain":[0,0.2],"nice":false,"zero":false},"axis":{"orient":"top","values":[0,0.02,0.04,0.06,0.08,0.1,0.12,0.14,0.16,0.18,0.2],"labels":false,"title":null}},
"y":{"field":"v","type":"quantitative","scale":{"domain":[-0.5,4],"nice":false,"zero":false},"axis":{"orient":"right","values":[-0.5,0,0.5,1,1.5,2,2.5,3,3.5,4],"labels":false,"title":null}}
}}
],
"resolve":{"axis":{"x":"independent","y":"independent"}}
}
]
}
